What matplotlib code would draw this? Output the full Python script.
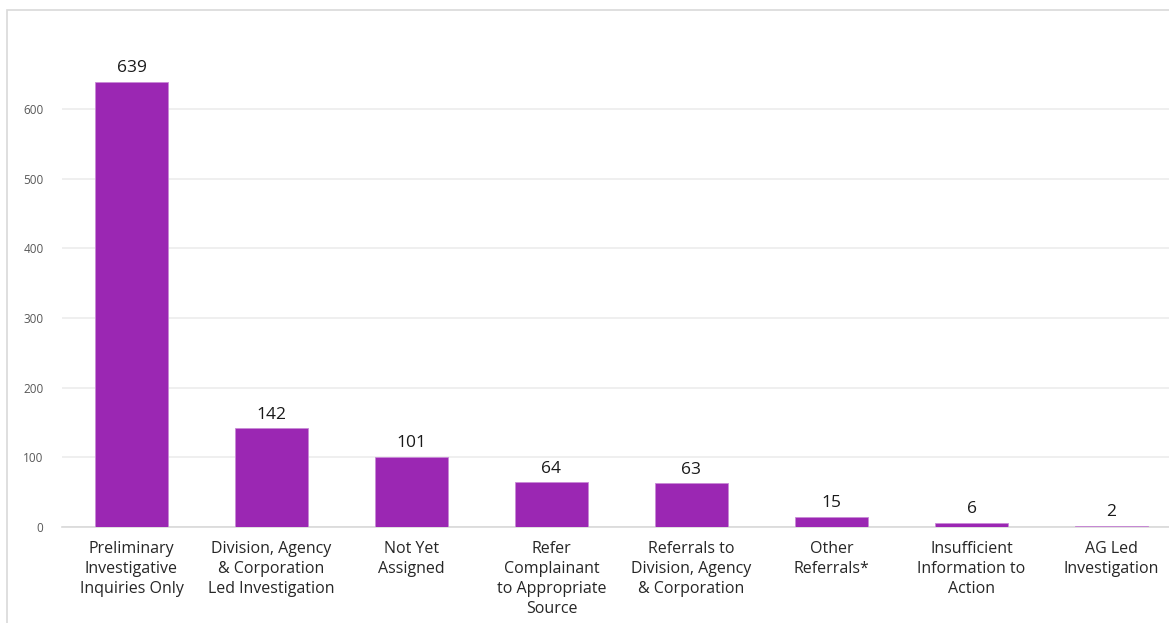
import matplotlib.pyplot as plt
from matplotlib.patches import Rectangle

categories = [
    "Preliminary\nInvestigative\nInquiries Only",
    "Division, Agency\n& Corporation\nLed Investigation",
    "Not Yet\nAssigned",
    "Refer\nComplainant\nto Appropriate\nSource",
    "Referrals to\nDivision, Agency\n& Corporation",
    "Other\nReferrals*",
    "Insufficient\nInformation to\nAction",
    "AG Led\nInvestigation",
]
counts = [639, 142, 101, 64, 63, 15, 6, 2]
yticks = [0, 100, 200, 300, 400, 500, 600]

W, H = 1169, 623
fig = plt.figure(figsize=(W / 100, H / 100), dpi=100)
plt.rcParams['font.family'] = ['Open Sans', 'DejaVu Sans']

# outer frame (runs off right and bottom edges)
fig.patches.append(Rectangle((7 / W, -0.1), 1.2, (H - 10) / H + 0.1,
                             transform=fig.transFigure, fill=False,
                             edgecolor='#d9d9d9', linewidth=1.2))

# axes placed in pixel terms: y=0 at 527px, y=600 at 109px
px_per_unit = (527 - 109) / 600
ymax = 690
left, right = 61.5, 1181.5
bottom_px = 527
top_px = 527 - ymax * px_per_unit
ax = fig.add_axes([left / W, (H - bottom_px) / H, (right - left) / W, (bottom_px - top_px) / H])

x = range(len(categories))
bars = ax.bar(x, counts, width=0.52, color='#9b27b3', edgecolor='#c98ad6', linewidth=0.6, zorder=3)

for xi, v in zip(x, counts):
    ax.annotate(str(v), (xi, v), xytext=(0, 4), textcoords='offset points',
                ha='center', va='bottom', fontsize=12.5, color='#1a1a1a')

ax.set_xlim(-0.5, len(categories) - 0.5)
ax.set_ylim(0, ymax)
ax.set_yticks(yticks)
ax.set_yticklabels([str(t) for t in yticks], fontsize=8.5, color='#595959')
ax.set_xticks(list(x))
ax.set_xticklabels(categories, fontsize=11.5, color='#262626', linespacing=1.35)
ax.tick_params(axis='both', length=0)
ax.tick_params(axis='y', pad=13)
ax.tick_params(axis='x', pad=10)
ax.yaxis.grid(True, color='#ececec', linewidth=1.2, zorder=0)
for s in ['top', 'right', 'left']:
    ax.spines[s].set_visible(False)
ax.spines['bottom'].set_color('#d9d9d9')
ax.spines['bottom'].set_linewidth(1.2)

fig.savefig('out.png', dpi=100)
